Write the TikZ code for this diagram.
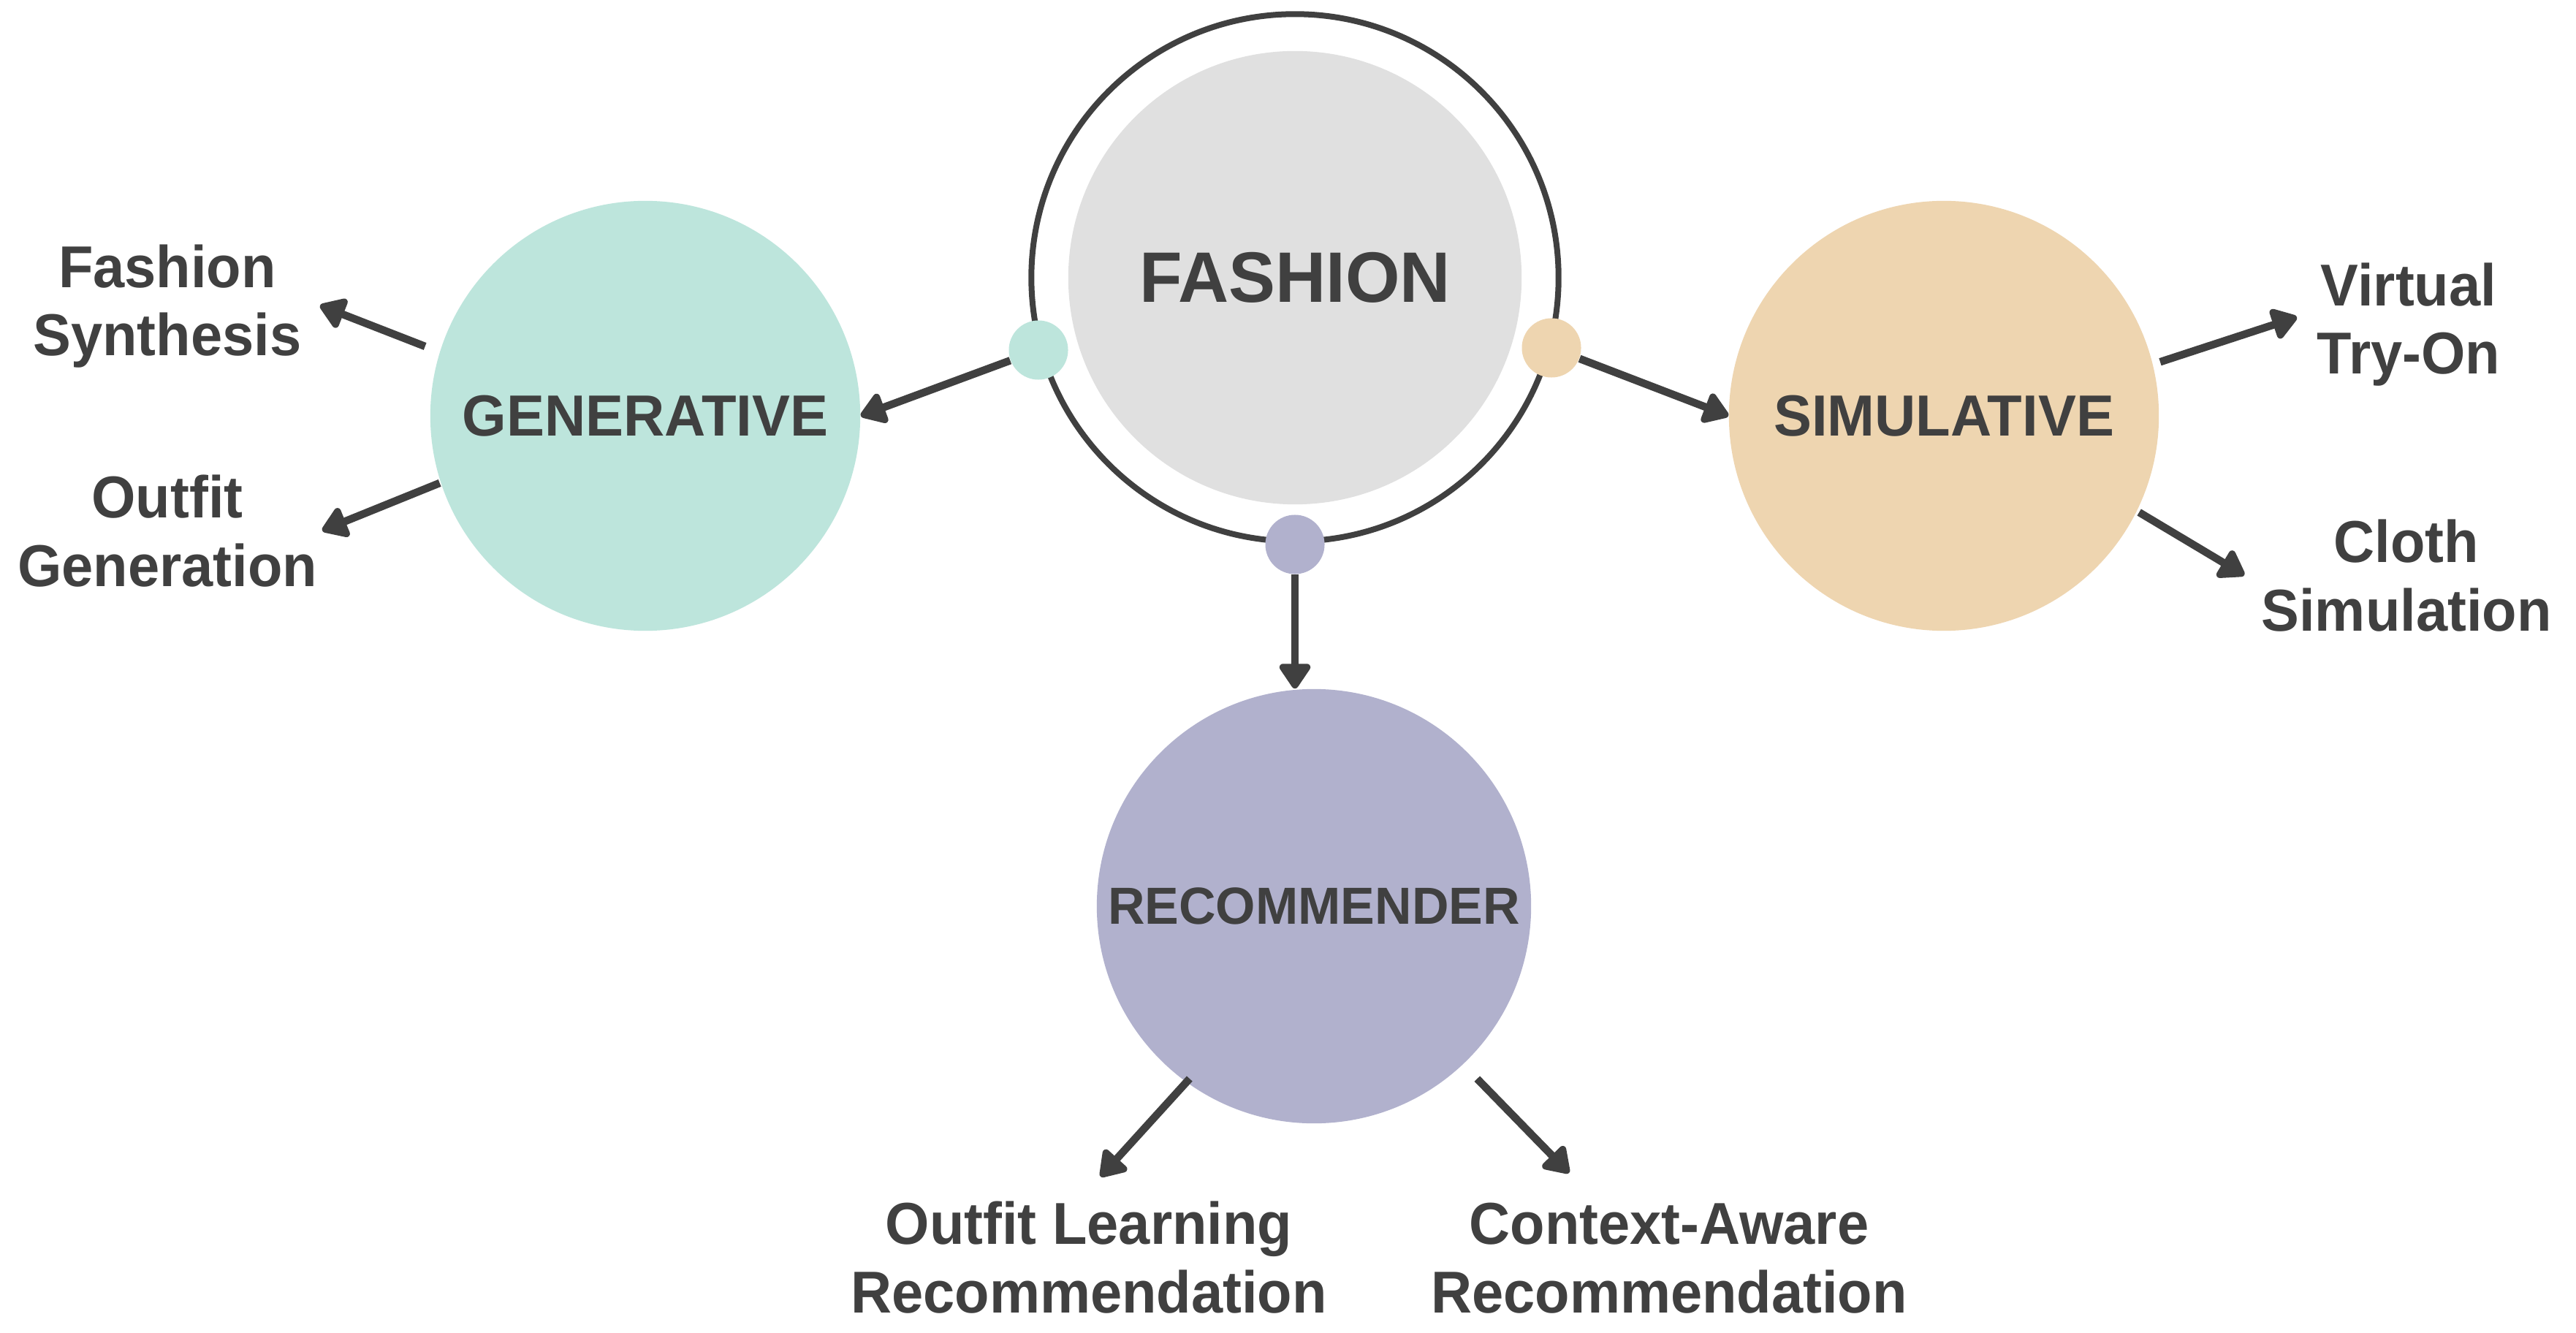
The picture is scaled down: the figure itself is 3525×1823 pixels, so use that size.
\documentclass[tikz,border=0pt]{standalone}
\usepackage{fontspec}
\newfontfamily\lblfont{Liberation Sans}[FakeStretch=0.96]
\newfontfamily\capfont{Liberation Sans}[FakeStretch=0.98]
\usetikzlibrary{arrows.meta,calc}
\definecolor{dark}{HTML}{404040}
\definecolor{grayc}{HTML}{E0E0E0}
\definecolor{tealc}{HTML}{BDE5DC}
\definecolor{beigec}{HTML}{EED5B0}
\definecolor{lavc}{HTML}{B1B1CD}
\begin{document}
\begin{tikzpicture}[x=0.01cm,y=0.01cm,
  arr/.style={draw=dark, line width=0.105cm, -{Triangle[length=0.38cm,width=0.48cm,round]}},
  lbl/.style={font=\lblfont\bfseries\fontsize{23}{26.5}\selectfont, text=dark, align=center, anchor=base, inner sep=0},
  big/.style={circle, inner sep=0, minimum size=5.88cm, text=dark},
  capt/.style={font=\capfont\bfseries\fontsize{22.6}{26}\selectfont},
  dotn/.style={circle, inner sep=0, minimum size=0.81cm}]
\useasboundingbox[fill=white] (0,0) rectangle (3525,1823);
% central element
\node[circle, draw=dark, line width=0.08cm, minimum size=7.21cm, inner sep=0] (ring) at (1772,1443) {};
\node[circle, fill=grayc, minimum size=6.2cm, inner sep=0, text=dark,
      font=\capfont\bfseries\fontsize{27.8}{30}\selectfont] (fashion) at (1772,1443) {FASHION};
\node[dotn, fill=tealc] (tdot) at (1421,1344) {};
\node[dotn, fill=beigec] (odot) at (2123,1347) {};
\node[dotn, fill=lavc] (pdot) at (1772,1078) {};
% categories
\node[big, capt, fill=tealc] (gen) at (883,1254) {GENERATIVE};
\node[big, capt, fill=beigec] (sim) at (2660,1254) {SIMULATIVE};
\node[big, fill=lavc, minimum size=5.94cm, font=\capfont\bfseries\fontsize{20.3}{24}\selectfont] (rec) at (1798,583) {RECOMMENDER};
% connectors from center
\draw[arr] (tdot) -- (gen.east);
\draw[arr] (odot) -- (sim.west);
\draw[arr] (pdot) -- (pdot |- rec.north);
% labels
\node[lbl] (fs) at (229,1336) {Fashion\\Synthesis};
\node[lbl] (og) at (229,1021) {Outfit\\Generation};
\node[lbl] (vto) at (3296,1311) {Virtual\\Try-On};
\node[lbl] (cs) at (3293,960) {Cloth\\Simulation};
\node[lbl] (ol) at (1490,27) {Outfit Learning\\Recommendation};
\node[lbl] (ca) at (2284,27) {Context-Aware\\Recommendation};
% arrow tips
\coordinate (fsT) at (438,1405);
\coordinate (ogT) at (441,1097);
\coordinate (vtoT) at (3143,1389);
\coordinate (csT) at (3071,1036);
\coordinate (olT) at (1506,213);
\coordinate (caT) at (2147,218);
\draw[arr] ($(gen.center)+(162.5:316)$) -- (fsT);
\draw[arr] ($(gen.center)+(198.1:296)$) -- (ogT);
\draw[arr] ($(sim.center)+(14:305)$) -- (vtoT);
\draw[arr] ($(sim.center)+(-26.3:298)$) -- (csT);
\draw[arr] ($(rec.center)+(234.2:291)$) -- (olT);
\draw[arr] ($(rec.center)+(-46.6:325)$) -- (caT);
\end{tikzpicture}
\end{document}
